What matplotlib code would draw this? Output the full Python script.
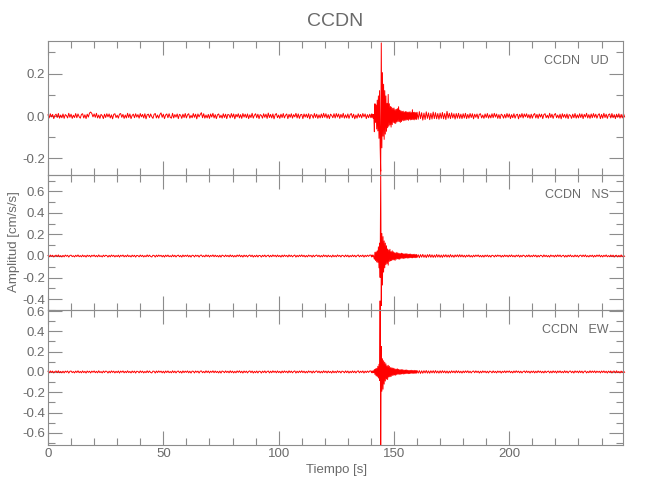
import numpy as np
from matplotlib import pyplot as plt
from matplotlib.ticker import MultipleLocator, FormatStrFormatter

plt.rcParams['font.family'] = ['Liberation Sans', 'DejaVu Sans']

# sampling of the values: (start [s], step [s]) per segment
seg_pre = (0.0, 0.5)
seg_evt = (140.0, 0.25)
seg_post = (160.0, 0.5)

# amplitudes in units of 0.001 cm/s/s
ud_pre = [6,-9,11,-4,8,-12,3,9,-7,12,-10,5,-8,10,-11,7,2,-9,13,-6,
          9,-11,4,-7,12,-8,10,-3,-10,8,11,-9,6,-12,9,-5,14,19,12,-4,
          10,-6,13,-9,5,-11,8,2,-12,9,-7,11,-4,10,-9,6,-13,8,11,-7,
          4,-10,9,12,-6,8,-11,5,-9,13,-7,10,-12,3,9,-8,11,-5,7,-10,
          12,-4,8,-9,11,-13,6,9,-7,10,-3,-11,8,12,-9,5,-10,7,15,-6,
          9,-12,5,10,-8,11,-6,-10,13,-9,7,-5,10,-12,8,4,-11,9,-7,12,
          -9,6,11,-10,3,-8,12,-6,9,-13,10,-4,7,16,-8,11,-10,5,-9,8,
          -11,10,-5,13,-9,7,-12,6,10,-8,4,-10,11,-7,9,-12,8,5,-9,12,
          -6,10,-13,8,-4,11,-9,7,-11,12,-5,9,-8,10,-12,6,-7,13,-10,4,
          11,-8,9,-12,7,3,-10,11,-6,9,-11,14,-7,8,-9,10,-13,6,12,-8,
          5,-11,9,-7,12,-9,4,10,-12,8,-6,11,-10,7,-4,13,-9,10,-11,6,
          8,-12,10,-5,9,-8,11,-13,7,4,-10,12,-7,9,-11,6,-9,10,-8,13,
          -6,11,-10,7,-12,9,3,-8,11,-9,12,-5,10,-11,8,-7,13,-10,6,-9,
          10,-11,7,12,-8,9,-13,5,-10,11,-6,8,-9,12,-4,10,-12,7,-8,9]
ud_evt = [-8,10,-6,9, -11,7,-74,58, -30,52,-61,75, -70,95,-105,120,
          -140,-260,345,-150, 205,-95,150,-110, 120,-85,95,-72, 60,-55,102,-48,
          58,-42,45,-52, 42,-40,36,-30, 38,-33,30,-35, 32,-28,35,-25,
          44,-26,28,-30, 25,-26,22,-20, 23,-22,19,-20, 21,-19,20,-17,
          18,-20,19,-15, 20,-18,16,-17, 30,-16,17,-18, 18,-15,16,-16]
ud_post = [18,-15,21,-12,16,-19,14,-16,20,-11,15,-17,13,-14,19,-12,16,-13,12,-15,
           14,-11,17,-13,12,-16,22,-10,13,-12,15,-9,11,-14,12,-10,13,-11,9,-12,
           11,-9,13,-12,8,-10,12,-7,11,-13,9,-6,10,-12,8,11,-9,5,-11,10,
           -7,12,-10,6,-9,11,-8,13,-5,10,-11,7,-12,9,4,-10,8,-9,12,-6,
           10,-12,7,-8,11,-10,5,9,-13,8,-6,12,-9,10,-4,11,-8,7,-11,9,
           -10,6,12,-9,8,-11,10,-5,9,-12,7,11,-8,4,-10,13,-7,9,-11,6,
           12,-8,5,-10,9,-13,11,-6,8,-9,10,-12,7,3,-11,9,-8,12,-10,6,
           -9,11,-7,10,-12,8,-5,13,-9,7,-11,10,-8,12,-6,9,-10,5,11,-12,
           8,-10,13,-7,9,-11,6,10,-9,12,-8,7,-12,9,-6,11,-10,8,-9,12,
           -4]

ns_pre = [5,-8,9,-4,7,-9,3,8,-6,10,-7,4,-9,6,-8,9,-3,7,-10,5,
          8,-6,3,-9,7,-5,10,-7,4,-8,9,-6,5,-10,8,-4,6,-9,7,-3,
          9,-7,5,-8,10,-6,3,-9,8,-5,7,4,-10,6,-8,9,-4,7,-9,5,
          -6,8,-10,7,-3,9,-8,5,-7,10,-6,4,-9,8,-5,7,-10,6,3,-8,
          9,-5,7,-9,4,-7,10,-6,8,-4,-9,7,5,-10,8,-6,9,-3,7,-8,
          6,-10,8,-5,9,-7,3,-8,10,-6,7,-9,4,8,-7,5,-10,9,-6,7,
          -4,9,-8,6,-10,7,5,-9,8,-3,7,-10,6,9,-7,4,-8,10,-5,8,
          -9,6,-4,10,-7,8,-6,5,-9,7,-10,8,3,-7,9,-5,6,-8,10,-6,
          7,-9,5,-8,9,-4,10,-7,6,-10,8,-5,7,-9,4,9,-6,8,-10,5,
          -7,8,-9,6,4,-10,7,-5,9,-8,3,8,-9,6,-7,10,-4,7,-8,9,
          -6,5,-10,8,-7,9,-4,6,-9,10,-5,7,-8,3,9,-10,6,-7,8,-5,
          10,-6,7,-9,5,-8,9,-3,6,-10,8,-7,4,9,-6,7,-9,5,-8,10,
          -5,7,-9,8,-6,4,-10,9,-7,5,-8,10,-4,6,-9,7,3,-8,9,-6,
          8,-10,5,-7,9,-6,7,-9,4,10,-8,6,-5,9,-10,7,-6,8,-4,9]
ns_evt = [8,-9,10,-7, 9,-12,-30,35, -42,38,-55,48, -60,85,-110,120,
          -200,800,-460,210, -270,180,-150,140, -110,120,-80,95, -70,65,-85,55,
          -50,62,-45,40, -42,48,-35,38, -36,30,-40,28, -30,34,-26,27,
          -28,24,-30,22, -22,26,-20,23, -24,19,-21,20, -18,22,-17,19,
          -20,16,-18,17, -15,18,-16,14, -17,15,-14,16, -15,13,-16,14]
ns_post = [-14,12,-16,13,-11,15,-12,10,-15,13,-10,14,-12,11,-13,9,-12,14,-10,11,
           -12,9,-13,11,-8,12,-10,9,-11,13,-9,8,-12,10,-7,11,-9,12,-8,10,
           -9,7,-11,8,-6,10,-9,5,-10,8,-7,9,-4,10,-8,6,-9,7,-10,8,
           -5,9,-8,6,-10,7,4,-9,8,-6,9,-3,7,-10,6,-8,9,-5,7,-9,
           8,-6,10,-7,5,-9,8,-4,9,-10,6,-7,8,3,-9,7,-6,10,-8,5,
           -7,9,-5,8,-10,6,-8,7,4,-9,10,-6,7,-8,5,-10,9,-4,6,-9,
           8,-7,10,-5,9,-8,3,7,-10,6,-9,8,-5,10,-7,4,-8,9,-6,7,
           -10,5,8,-7,9,-6,10,-8,4,-9,7,-5,8,-10,6,-7,9,-4,10,-8,
           6,-9,7,-5,10,-8,4,-7,9,-6,8,-10,5,7,-9,6,-8,10,-7,5,
           -3]

ew_pre = [7,-9,10,-5,8,-10,4,9,-7,11,-8,5,-9,7,-10,8,-4,9,-11,6,
          9,-7,4,-10,8,-6,11,-8,5,-9,10,-7,6,-11,9,-5,7,-10,8,-4,
          10,-8,6,-9,11,-7,4,-10,9,-6,8,5,-11,7,-9,10,-5,8,-10,6,
          -7,9,-11,8,-4,10,-9,6,-8,11,-7,5,-10,9,-6,8,-11,7,4,-9,
          10,-6,8,-10,5,-8,11,-7,9,-5,-10,8,6,-11,9,-7,10,-4,8,-9,
          7,-11,9,-6,10,-8,4,-9,11,-7,8,-10,5,9,-8,6,-11,10,-7,8,
          -5,10,-9,7,-11,8,6,-10,9,-4,8,-11,7,10,-8,5,-9,11,-6,9,
          -10,7,-5,11,-8,9,-7,6,-10,8,-11,9,4,-8,10,-6,7,-9,11,-7,
          8,-10,6,-9,10,-5,11,-8,7,-11,9,-6,8,-10,5,10,-7,9,-11,6,
          -8,9,-10,7,5,-11,8,-6,10,-9,4,9,-10,7,-8,11,-5,8,-9,10,
          -7,6,-11,9,-8,10,-5,7,-10,11,-6,8,-9,4,10,-11,7,-8,9,-6,
          11,-7,8,-10,6,-9,10,-4,7,-11,9,-8,5,10,-7,8,-10,6,-9,11,
          -6,8,-10,9,-7,5,-11,10,-8,6,-9,11,-5,7,-10,8,4,-9,10,-7,
          9,-11,6,-8,10,-7,8,-10,5,11,-9,7,-6,10,-11,8,-7,9,-5,10]
ew_evt = [9,-8,10,-9, 11,-8,22,-25, 30,-38,35,-45, 55,-60,75,-85,
          700,-720,250,-190, 130,-170,110,-120, 95,-90,80,-70, 60,-75,65,-50,
          55,-48,42,-45, 40,-36,38,-32, 35,-30,28,-33, 27,-25,30,-22,
          25,-24,21,-23, 22,-20,24,-18, 19,-21,17,-18, 18,-16,19,-15,
          16,-17,14,-16, 15,-14,16,-13, 14,-15,13,-14, 15,-13,14,-12]
ew_post = [14,-12,13,-15,11,-13,12,-10,14,-12,10,-13,11,-9,12,-11,13,-10,9,-12,
           11,-10,12,-8,10,-11,9,-12,8,-10,11,-7,9,-10,12,-8,10,-9,7,-11,
           9,-8,10,-6,11,-9,7,-10,5,9,-8,10,-6,8,-11,7,-9,10,-5,8,
           -9,7,-10,8,4,-9,10,-7,6,-10,9,-5,8,-11,7,-6,10,-8,9,-4,
           10,-8,6,-10,9,-7,11,-5,8,-9,7,-10,4,9,-8,10,-6,7,-11,8,
           -6,9,-10,7,-8,11,-5,8,-9,6,-10,9,-7,4,8,-10,7,-9,10,-6,
           8,-11,9,-6,10,-8,5,-9,11,-7,8,-10,6,9,-8,7,-11,10,-5,8,
           -9,10,-7,8,-11,6,9,-10,5,-8,11,-7,9,-6,10,-9,8,-5,7,-10,
           9,-6,10,-8,7,-11,8,-5,9,-10,6,8,-9,11,-7,5,-10,8,-6,9,
           -4]

station = 'CCDN'
components = ['UD', 'NS', 'EW']
y_limits = [(-0.278, 0.354), (-0.502, 0.753), (-0.72, 0.61)]
x_limits = (0, 249.3)

GRAY = '#8c8c8c'
TXT = '#6a6a6a'


def trace(pre, evt, post):
    parts_t = []
    for vals, (start, step) in [(pre, seg_pre), (evt, seg_evt), (post, seg_post)]:
        parts_t.append(start + step * np.arange(len(vals)))
    t = np.concatenate(parts_t)
    a = np.concatenate([pre, evt, post]) * 1e-3
    return t, a


def style_axis(ax, ylim, show_x):
    ax.set_xlim(*x_limits)
    ax.set_ylim(*ylim)
    ax.xaxis.set_major_locator(MultipleLocator(50))
    ax.xaxis.set_minor_locator(MultipleLocator(10))
    ax.yaxis.set_major_locator(MultipleLocator(0.2))
    ax.yaxis.set_minor_locator(MultipleLocator(0.1))
    ax.yaxis.set_major_formatter(FormatStrFormatter('%.1f'))
    ax.tick_params(which='both', direction='in', top=True, right=True,
                   color=GRAY, width=0.8, labelcolor=TXT, labelsize=9.5)
    ax.tick_params(which='major', length=10, pad=2)
    ax.tick_params(which='minor', length=5)
    if not show_x:
        ax.tick_params(axis='x', labelbottom=False)
    for s in ax.spines.values():
        s.set_color(GRAY)
        s.set_linewidth(0.8)


def main():
    fig = plt.figure(figsize=(6.5, 5), dpi=100)
    left, width = 48 / 650, 575 / 650
    edges = [41, 175, 310, 445]
    data = [trace(ud_pre, ud_evt, ud_post),
            trace(ns_pre, ns_evt, ns_post),
            trace(ew_pre, ew_evt, ew_post)]

    for i in range(3):
        bottom = 1 - edges[i + 1] / 500
        height = (edges[i + 1] - edges[i]) / 500
        ax = fig.add_axes([left, bottom, width, height])
        ax.set_facecolor('none')
        t, a = data[i]
        ax.plot(t, a, color='red', lw=0.7, clip_on=False)
        style_axis(ax, y_limits[i], i == 2)
        ax.annotate(station + '   ' + components[i], xy=(1, 1), xycoords='axes fraction',
                    xytext=(-14, -20), textcoords='offset pixels',
                    ha='right', va='center', fontsize=9, color=TXT)

    fig.text(0.516, 0.956, station, ha='center', va='center', fontsize=14, color=TXT)
    fig.text(0.518, 0.06, 'Tiempo [s]', ha='center', va='center', fontsize=9.5, color=TXT)
    fig.text(0.0215, 0.516, 'Amplitud [cm/s/s]', ha='center', va='center',
             rotation=90, fontsize=9.5, color=TXT)

    fig.savefig('out.png', dpi=100, facecolor='white')


if __name__ == "__main__":
    main()
